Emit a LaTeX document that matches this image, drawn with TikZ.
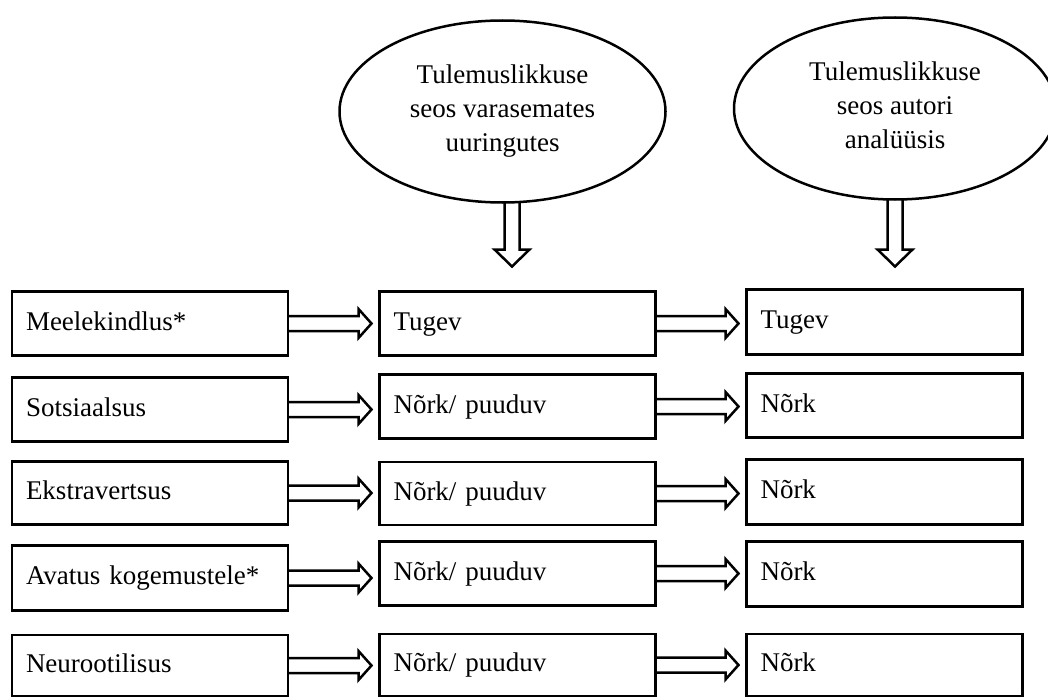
\documentclass[tikz,border=0pt]{standalone}
\usepackage{fontspec}
\setmainfont{Liberation Serif}
\usetikzlibrary{calc,shapes.geometric}

\tikzset{
  x=1pt, y=-1pt,
  txt/.style={font=\fontsize{27}{34}\selectfont},
  box/.style={draw, line width=2.5pt, rectangle, txt, inner xsep=14pt, inner ysep=0pt,
    outer sep=0pt, text width=248pt, align=left, text height=19pt, text depth=6pt},
  oval/.style={draw, line width=2.5pt, ellipse, txt, align=center, inner sep=0pt,
    outer sep=0pt, minimum width=326pt, minimum height=182pt},
  % hollow block arrow pointing right, ending just short of the target box
  blockright/.style={line width=2.5pt, line join=miter,
    to path={let \p1=(\tikztostart), \p2=(\tikztotarget) in
      (\x1,\y1+7.5pt) -- (\x2-21pt,\y1+7.5pt) -- (\x2-21pt,\y1+14.5pt) -- (\x2-8pt,\y1)
      -- (\x2-21pt,\y1-14.5pt) -- (\x2-21pt,\y1-7.5pt) -- (\x1,\y1-7.5pt)}},
  % hollow block arrow pointing down, tip at the target coordinate
  blockdown/.style={line width=2.5pt, line join=miter,
    to path={let \p1=(\tikztostart), \p2=(\tikztotarget) in
      (\x1-7.5pt,\y1) -- (\x1-7.5pt,\y2+17pt) -- (\x1-17.5pt,\y2+17pt) -- (\x1,\y2)
      -- (\x1+17.5pt,\y2+17pt) -- (\x1+7.5pt,\y2+17pt) -- (\x1+7.5pt,\y1)}}
}

\begin{document}
\begin{tikzpicture}
\useasboundingbox (0,0) rectangle (1048,698);

% headings
\node[oval] (e1) at (502.5,111.5) {Tulemuslikkuse\\seos varasemates\\uuringutes};
\node[oval, minimum width=322pt] (e2) at (895,108.5) {Tulemuslikkuse\\seos autori\\analüüsis\vphantom{g}};
\coordinate (d1) at (512,266.5);
\coordinate (d2) at (895,266.5);
\draw[blockdown] ([xshift=9.5pt]e1.south) to (d1);
\draw[blockdown] (e2.south) to (d2);

% traits
\node[box, minimum height=64pt] (l1) at (150,323.5) {Meelekindlus*};
\node[box, minimum height=64pt] (l2) at (150,409.5) {Sotsiaalsus};
\node[box, minimum height=63pt] (l3) at (150,493) {Ekstravertsus};
\node[box, minimum height=65pt] (l4) at (150,578) {Avatus kogemustele*};
\node[box, minimum height=61pt] (l5) at (150,665.5) {Neurootilisus};

% earlier studies
\node[box, minimum height=64pt] (m1) at (517.5,323.5) {Tugev};
\node[box, minimum height=64pt] (m2) at (517.5,406.5) {Nõrk/ puuduv};
\node[box, minimum height=63pt] (m3) at (517.5,493.5) {Nõrk/ puuduv};
\node[box, minimum height=64pt] (m4) at (517.5,573.5) {Nõrk/ puuduv};
\node[box, minimum height=62pt] (m5) at (517.5,665) {Nõrk/ puuduv};

% own analysis
\node[box, minimum height=65pt] (r1) at (884.5,322) {Tugev};
\node[box, minimum height=64pt] (r2) at (884.5,405.5) {Nõrk};
\node[box, minimum height=65pt] (r3) at (884.5,492) {Nõrk};
\node[box, minimum height=65pt] (r4) at (884.5,574) {Nõrk};
\node[box, minimum height=62pt] (r5) at (884.5,665) {Nõrk};

% links between the columns
\foreach \i in {1,...,5} {
  \draw[blockright] (l\i.east) to (m\i.west);
  \draw[blockright] (m\i.east) to (r\i.west);
}
\end{tikzpicture}
\end{document}
